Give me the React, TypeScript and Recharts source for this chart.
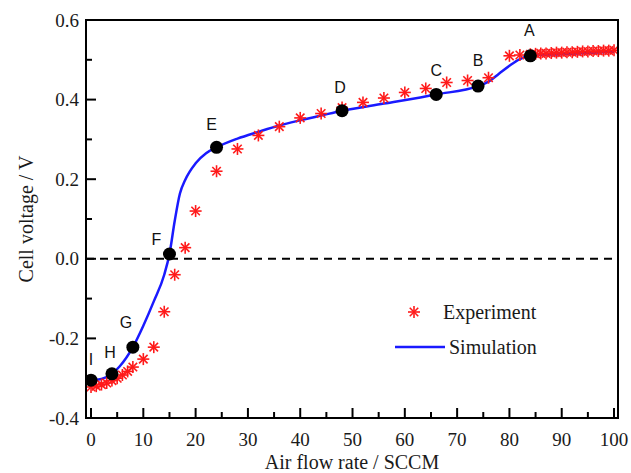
import { ComposedChart, Line, Scatter, XAxis, YAxis, ReferenceLine, Legend } from 'recharts';

// Experiment (red asterisks)
const expFlow = [0, 1, 2, 3, 4, 5, 6, 7, 8, 10, 12, 14, 16, 18, 20, 24, 28, 32, 36, 40, 44, 48, 52, 56, 60, 64, 68, 72, 76, 80, 82,
    84, 85, 86, 87, 88, 89, 90, 91, 92, 93, 94, 95, 96, 97, 98, 99, 100];
const expVoltage = [-0.322, -0.32, -0.316, -0.312, -0.306, -0.3, -0.292, -0.283, -0.272, -0.252, -0.222, -0.133, -0.04, 0.028, 0.12,
    0.22, 0.276, 0.31, 0.332, 0.354, 0.365, 0.38, 0.393, 0.404, 0.418, 0.428, 0.443, 0.448, 0.455, 0.51, 0.512,
    0.514, 0.515, 0.516, 0.516, 0.517, 0.518, 0.518, 0.519, 0.519, 0.52, 0.521, 0.521, 0.522, 0.522, 0.523, 0.523, 0.524];

// Simulation (blue line)
const simFlow = [0, 2, 4, 5.5, 8, 10, 12, 14, 15, 16, 17, 18, 20, 22, 24, 28, 32, 36, 40, 44, 48, 56, 66, 74, 76, 78, 80, 82, 84, 90, 100];
const simVoltage = [-0.305, -0.302, -0.289, -0.27, -0.222, -0.168, -0.107, -0.04, 0.012, 0.095, 0.164, 0.198, 0.24, 0.265, 0.28,
    0.302, 0.319, 0.335, 0.348, 0.36, 0.372, 0.39, 0.413, 0.434, 0.445, 0.465, 0.485, 0.502, 0.51, 0.514, 0.52];

// Operating points marked on the simulation curve
const keyLabels = ['I', 'H', 'G', 'F', 'E', 'D', 'C', 'B', 'A'];
const keyFlow = [0, 4, 8, 15, 24, 48, 66, 74, 84];

const xTicks = [0, 5, 10, 15, 20, 25, 30, 35, 40, 45, 50, 55, 60, 65, 70, 75, 80, 85, 90, 95, 100];
const yTicks = [-0.4, -0.3, -0.2, -0.1, 0, 0.1, 0.2, 0.3, 0.4, 0.5, 0.6];

const expData = expFlow.map((x, i) => ({ x, y: expVoltage[i] }));
const simData = simFlow.map((x, i) => ({ x, y: simVoltage[i] }));
const keyData = keyLabels.map((label, i) => ({ label, x: keyFlow[i], y: simVoltage[simFlow.indexOf(keyFlow[i])] }));

const SERIF = '"Liberation Serif", "Times New Roman", serif';
const SANS = '"Liberation Sans", Arial, sans-serif';
const RED = '#ff1a1a';
const BLUE = '#1a1aff';

// letter offsets from the dot centre (text centre x, baseline y)
const letterOffset: Record<string, [number, number]> = {
    A: [-1, -14], B: [0, -14], C: [0, -12], D: [-2, -12], E: [-5, -11],
    F: [-13, -3], G: [-7, -13], H: [-2, -10], I: [0, -9],
};

function Asterisk({ cx, cy }: any) {
    const r = 6;
    const d = r * 0.707;
    return (
        <g stroke={RED} strokeWidth={1.6}>
            <line x1={cx - r} y1={cy} x2={cx + r} y2={cy} />
            <line x1={cx} y1={cy - r} x2={cx} y2={cy + r} />
            <line x1={cx - d} y1={cy - d} x2={cx + d} y2={cy + d} />
            <line x1={cx - d} y1={cy + d} x2={cx + d} y2={cy - d} />
        </g>
    );
}

function KeyDot({ cx, cy, payload }: any) {
    const [dx, dy] = letterOffset[payload.label] || [0, -12];
    return (
        <g>
            <circle cx={cx} cy={cy} r={6.5} fill="#000" />
            <text x={cx + dx} y={cy + dy - 6} textAnchor="middle" fontFamily={SANS} fontSize={16} fill="#111">
                {payload.label}
            </text>
        </g>
    );
}

function XTick({ x, y, payload }: any) {
    const v = payload.value;
    const major = v % 10 === 0;
    return (
        <g>
            <line x1={x} x2={x} y1={y} y2={y - (major ? 10 : 6)} stroke="#000" strokeWidth={2} />
            {major && (
                <text x={x} y={y + 28} textAnchor="middle" fontFamily={SERIF} fontSize={19} fill="#1a1a1a">{v}</text>
            )}
        </g>
    );
}

function YTick({ x, y, payload }: any) {
    const v = payload.value;
    const major = Math.abs(Math.round(v * 10)) % 2 === 0;
    return (
        <g>
            <line x1={x} x2={x + (major ? 10 : 6)} y1={y} y2={y} stroke="#000" strokeWidth={2} />
            {major && (
                <text x={x - 7} y={y} dy="0.35em" textAnchor="end" fontFamily={SERIF} fontSize={19} fill="#1a1a1a">{v.toFixed(1)}</text>
            )}
        </g>
    );
}

function LegendBox({ payload }: any) {
    const items = (payload || []).filter((p: any) => p.type !== 'none');
    const exp = items.find((p: any) => p.value === 'Experiment');
    const sim = items.find((p: any) => p.value === 'Simulation');
    return (
        <svg width={230} height={75}>
            {exp && (
                <g>
                    <Asterisk cx={24} cy={22} />
                    <text x={53} y={29} fontFamily={SERIF} fontSize={20} fill="#1a1a1a">{exp.value}</text>
                </g>
            )}
            {sim && (
                <g>
                    <line x1={5} x2={55} y1={57} y2={57} stroke={BLUE} strokeWidth={2.5} />
                    <text x={59} y={64} fontFamily={SERIF} fontSize={20} fill="#1a1a1a">{sim.value}</text>
                </g>
            )}
        </svg>
    );
}

export default function App() {
    const xDomain: [number, number] = [-0.96, 100.76];
    const yDomain: [number, number] = [-0.4, 0.6];
    return (
        <div style={{ position: 'absolute', left: 0, top: 0, width: 631, height: 473, background: '#fff' }}>
            <ComposedChart width={631} height={473} margin={{ top: 20, right: 13, bottom: 0, left: 0 }}>
                <XAxis type="number" dataKey="x" domain={xDomain} allowDataOverflow ticks={xTicks} interval={0}
                    tick={<XTick />} tickLine={false} tickSize={0} tickMargin={0} height={55}
                    axisLine={false}
                    label={{
                        content: () => (
                            <text x={352} y={469} textAnchor="middle" fontFamily={SERIF} fontSize={20} fill="#1a1a1a">
                                Air flow rate / SCCM
                            </text>
                        ),
                    }} />
                <YAxis type="number" dataKey="y" domain={yDomain} allowDataOverflow ticks={yTicks} interval={0}
                    tick={<YTick />} tickLine={false} tickSize={0} tickMargin={0} width={86}
                    axisLine={false}
                    label={{
                        content: () => (
                            <text x={33} y={219} transform="rotate(-90, 33, 219)" textAnchor="middle"
                                fontFamily={SERIF} fontSize={20} fill="#1a1a1a">
                                Cell voltage / V
                            </text>
                        ),
                    }} />
                <ReferenceLine y={0} stroke="#000" strokeWidth={2} strokeDasharray="8 6" />
                <Scatter name="Experiment" data={expData} fill={RED} shape={<Asterisk />} isAnimationActive={false} />
                <Line name="Simulation" data={simData} dataKey="y" type="monotone" stroke={BLUE} strokeWidth={2.5}
                    dot={false} activeDot={false} isAnimationActive={false} />
                <Scatter name="points" data={keyData} shape={<KeyDot />} legendType="none" isAnimationActive={false} />
                <Legend layout="horizontal" verticalAlign="middle" align="center" content={<LegendBox />}
                    wrapperStyle={{ left: 390, top: 290, width: 230, height: 75 }} />
            </ComposedChart>
            {/* plot frame, all four edges */}
            <div style={{
                position: 'absolute', left: 85, top: 19, width: 534, height: 400, boxSizing: 'border-box',
                border: '2.5px solid #000', pointerEvents: 'none',
            }} />
        </div>
    );
}
